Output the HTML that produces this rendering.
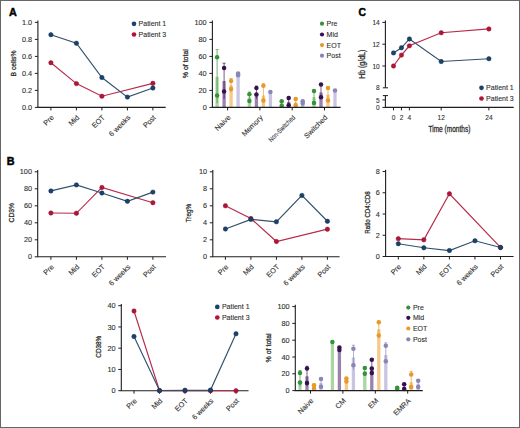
<!DOCTYPE html>
<html><head><meta charset="utf-8">
<style>
html,body{margin:0;padding:0;background:#fff;}
body{width:520px;height:428px;overflow:hidden;position:relative;}
.frame{position:absolute;left:0;top:0;width:518px;height:426px;border:1px solid #666;}
svg{position:absolute;left:0;top:0;}
text{font-family:"Liberation Sans",sans-serif;fill:#2e2e2e;stroke:#2e2e2e;stroke-width:0.1;}
text.yl{stroke-width:0.28;}
</style></head><body>
<div class="frame"></div>
<svg width="520" height="428" viewBox="0 0 520 428">
<text x="8.9" y="15.8" font-size="10.8" font-weight="bold" style="fill:#000;stroke:#000;stroke-width:0.45">A</text>
<text x="6.8" y="164.8" font-size="10.8" font-weight="bold" style="fill:#000;stroke:#000;stroke-width:0.45">B</text>
<text x="358.4" y="15.8" font-size="10.4" font-weight="bold" style="fill:#000;stroke:#000;stroke-width:0.45">C</text>
<line x1="37.9" y1="20.6" x2="37.9" y2="107.4" stroke="#1e1e1e" stroke-width="1.1"/>
<line x1="34.9" y1="107.4" x2="37.9" y2="107.4" stroke="#1e1e1e" stroke-width="1"/>
<text x="32.2" y="110" text-anchor="end" font-size="7.3">0.0</text>
<line x1="34.9" y1="90.4" x2="37.9" y2="90.4" stroke="#1e1e1e" stroke-width="1"/>
<text x="32.2" y="93" text-anchor="end" font-size="7.3">0.2</text>
<line x1="34.9" y1="73.4" x2="37.9" y2="73.4" stroke="#1e1e1e" stroke-width="1"/>
<text x="32.2" y="76" text-anchor="end" font-size="7.3">0.4</text>
<line x1="34.9" y1="56.4" x2="37.9" y2="56.4" stroke="#1e1e1e" stroke-width="1"/>
<text x="32.2" y="59" text-anchor="end" font-size="7.3">0.6</text>
<line x1="34.9" y1="39.4" x2="37.9" y2="39.4" stroke="#1e1e1e" stroke-width="1"/>
<text x="32.2" y="42" text-anchor="end" font-size="7.3">0.8</text>
<line x1="34.9" y1="22.4" x2="37.9" y2="22.4" stroke="#1e1e1e" stroke-width="1"/>
<text x="32.2" y="25" text-anchor="end" font-size="7.3">1.0</text>
<line x1="37.4" y1="107.4" x2="165.7" y2="107.4" stroke="#1e1e1e" stroke-width="1.1"/>
<line x1="50.9" y1="107.4" x2="50.9" y2="110.4" stroke="#1e1e1e" stroke-width="1"/>
<text x="0" y="0" text-anchor="end" font-size="7.3" transform="translate(54.3 118) rotate(-45) scale(1.0 1)">Pre</text>
<line x1="76.4" y1="107.4" x2="76.4" y2="110.4" stroke="#1e1e1e" stroke-width="1"/>
<text x="0" y="0" text-anchor="end" font-size="7.3" transform="translate(79.8 118) rotate(-45) scale(1.0 1)">Mid</text>
<line x1="101.9" y1="107.4" x2="101.9" y2="110.4" stroke="#1e1e1e" stroke-width="1"/>
<text x="0" y="0" text-anchor="end" font-size="7.3" transform="translate(105.3 118) rotate(-45) scale(1.0 1)">EOT</text>
<line x1="127.4" y1="107.4" x2="127.4" y2="110.4" stroke="#1e1e1e" stroke-width="1"/>
<text x="0" y="0" text-anchor="end" font-size="7.3" transform="translate(130.8 118) rotate(-45) scale(1.0 1)">6 weeks</text>
<line x1="152.9" y1="107.4" x2="152.9" y2="110.4" stroke="#1e1e1e" stroke-width="1"/>
<text x="0" y="0" text-anchor="end" font-size="7.3" transform="translate(156.3 118) rotate(-45) scale(1.0 1)">Post</text>
<text class="yl" x="0" y="0" text-anchor="middle" font-size="7.0" transform="translate(16.2 63.5) rotate(-90) scale(0.97 1)">B cells%</text>
<polyline points="50.9,62.75 76.4,83.58 101.9,96.24 152.9,83.32" fill="none" stroke="#b82a4a" stroke-width="1.15"/>
<circle cx="50.9" cy="62.75" r="2.2" fill="#b01638" stroke="#930d2c" stroke-width="0.5"/>
<circle cx="76.4" cy="83.58" r="2.2" fill="#b01638" stroke="#930d2c" stroke-width="0.5"/>
<circle cx="101.9" cy="96.24" r="2.2" fill="#b01638" stroke="#930d2c" stroke-width="0.5"/>
<circle cx="152.9" cy="83.32" r="2.2" fill="#b01638" stroke="#930d2c" stroke-width="0.5"/>
<polyline points="50.9,34.7 76.4,43.2 101.9,77.54 127.4,97.09 152.9,88" fill="none" stroke="#33506e" stroke-width="1.15"/>
<circle cx="50.9" cy="34.7" r="2.2" fill="#1b426c" stroke="#0f2e50" stroke-width="0.5"/>
<circle cx="76.4" cy="43.2" r="2.2" fill="#1b426c" stroke="#0f2e50" stroke-width="0.5"/>
<circle cx="101.9" cy="77.54" r="2.2" fill="#1b426c" stroke="#0f2e50" stroke-width="0.5"/>
<circle cx="127.4" cy="97.09" r="2.2" fill="#1b426c" stroke="#0f2e50" stroke-width="0.5"/>
<circle cx="152.9" cy="88" r="2.2" fill="#1b426c" stroke="#0f2e50" stroke-width="0.5"/>
<circle cx="134" cy="23.8" r="2.35" fill="#1b426c"/>
<text x="138.6" y="26.3" font-size="7.0">Patient 1</text>
<circle cx="134" cy="34.5" r="2.35" fill="#b01638"/>
<text x="138.6" y="37" font-size="7.0">Patient 3</text>
<line x1="212.4" y1="20.6" x2="212.4" y2="107.4" stroke="#1e1e1e" stroke-width="1.1"/>
<line x1="209.4" y1="107.4" x2="212.4" y2="107.4" stroke="#1e1e1e" stroke-width="1"/>
<text x="206.7" y="110" text-anchor="end" font-size="7.3">0</text>
<line x1="209.4" y1="90.4" x2="212.4" y2="90.4" stroke="#1e1e1e" stroke-width="1"/>
<text x="206.7" y="93" text-anchor="end" font-size="7.3">20</text>
<line x1="209.4" y1="73.4" x2="212.4" y2="73.4" stroke="#1e1e1e" stroke-width="1"/>
<text x="206.7" y="76" text-anchor="end" font-size="7.3">40</text>
<line x1="209.4" y1="56.4" x2="212.4" y2="56.4" stroke="#1e1e1e" stroke-width="1"/>
<text x="206.7" y="59" text-anchor="end" font-size="7.3">60</text>
<line x1="209.4" y1="39.4" x2="212.4" y2="39.4" stroke="#1e1e1e" stroke-width="1"/>
<text x="206.7" y="42" text-anchor="end" font-size="7.3">80</text>
<line x1="209.4" y1="22.4" x2="212.4" y2="22.4" stroke="#1e1e1e" stroke-width="1"/>
<text x="206.7" y="25" text-anchor="end" font-size="7.3">100</text>
<rect x="215.45" y="76.8" width="3.3" height="30.6" fill="#a9d79f"/>
<line x1="217.1" y1="103.15" x2="217.1" y2="49.6" stroke="#35913a" stroke-width="0.8" opacity="0.85"/>
<line x1="215.6" y1="49.6" x2="218.6" y2="49.6" stroke="#35913a" stroke-width="0.8" opacity="0.85"/>
<circle cx="217.1" cy="57.25" r="2.25" fill="#35913a"/>
<circle cx="217.1" cy="95.5" r="2.25" fill="#35913a"/>
<rect x="222.45" y="81.05" width="3.3" height="26.35" fill="#9b82ad"/>
<line x1="224.1" y1="98.9" x2="224.1" y2="63.2" stroke="#36114f" stroke-width="0.8" opacity="0.85"/>
<line x1="222.6" y1="63.2" x2="225.6" y2="63.2" stroke="#36114f" stroke-width="0.8" opacity="0.85"/>
<circle cx="224.1" cy="67.88" r="2.25" fill="#36114f"/>
<circle cx="224.1" cy="91.59" r="2.25" fill="#36114f"/>
<rect x="229.45" y="85.3" width="3.3" height="22.1" fill="#f5c98c"/>
<line x1="231.1" y1="92.1" x2="231.1" y2="78.5" stroke="#e59a2a" stroke-width="0.8" opacity="0.85"/>
<line x1="229.6" y1="78.5" x2="232.6" y2="78.5" stroke="#e59a2a" stroke-width="0.8" opacity="0.85"/>
<circle cx="231.1" cy="81.05" r="2.25" fill="#e59a2a"/>
<circle cx="231.1" cy="88.96" r="2.25" fill="#e59a2a"/>
<rect x="236.45" y="74.25" width="3.3" height="33.15" fill="#c8c5e3"/>
<line x1="238.1" y1="76.8" x2="238.1" y2="72.55" stroke="#8985b6" stroke-width="0.8" opacity="0.85"/>
<line x1="236.6" y1="72.55" x2="239.6" y2="72.55" stroke="#8985b6" stroke-width="0.8" opacity="0.85"/>
<circle cx="238.1" cy="73.4" r="2.25" fill="#8985b6"/>
<circle cx="238.1" cy="75.27" r="2.25" fill="#8985b6"/>
<rect x="247.75" y="97.2" width="3.3" height="10.2" fill="#a9d79f"/>
<line x1="249.4" y1="103.15" x2="249.4" y2="92.1" stroke="#35913a" stroke-width="0.8" opacity="0.85"/>
<line x1="247.9" y1="92.1" x2="250.9" y2="92.1" stroke="#35913a" stroke-width="0.8" opacity="0.85"/>
<circle cx="249.4" cy="94.23" r="2.25" fill="#35913a"/>
<circle cx="249.4" cy="101.03" r="2.25" fill="#35913a"/>
<rect x="254.75" y="93.8" width="3.3" height="13.6" fill="#9b82ad"/>
<line x1="256.4" y1="98.9" x2="256.4" y2="86.15" stroke="#36114f" stroke-width="0.8" opacity="0.85"/>
<line x1="254.9" y1="86.15" x2="257.9" y2="86.15" stroke="#36114f" stroke-width="0.8" opacity="0.85"/>
<circle cx="256.4" cy="88.11" r="2.25" fill="#36114f"/>
<circle cx="256.4" cy="94.4" r="2.25" fill="#36114f"/>
<rect x="261.75" y="95.5" width="3.3" height="11.9" fill="#f5c98c"/>
<line x1="263.4" y1="103.15" x2="263.4" y2="83.6" stroke="#e59a2a" stroke-width="0.8" opacity="0.85"/>
<line x1="261.9" y1="83.6" x2="264.9" y2="83.6" stroke="#e59a2a" stroke-width="0.8" opacity="0.85"/>
<circle cx="263.4" cy="85.81" r="2.25" fill="#e59a2a"/>
<circle cx="263.4" cy="100.6" r="2.25" fill="#e59a2a"/>
<rect x="268.75" y="92.1" width="3.3" height="15.3" fill="#c8c5e3"/>
<line x1="270.4" y1="92.95" x2="270.4" y2="91.25" stroke="#8985b6" stroke-width="0.8" opacity="0.85"/>
<line x1="268.9" y1="91.25" x2="271.9" y2="91.25" stroke="#8985b6" stroke-width="0.8" opacity="0.85"/>
<circle cx="270.4" cy="91.93" r="2.25" fill="#8985b6"/>
<rect x="280.05" y="103.58" width="3.3" height="3.83" fill="#a9d79f"/>
<line x1="281.7" y1="106.55" x2="281.7" y2="100.6" stroke="#35913a" stroke-width="0.8" opacity="0.85"/>
<line x1="280.2" y1="100.6" x2="283.2" y2="100.6" stroke="#35913a" stroke-width="0.8" opacity="0.85"/>
<circle cx="281.7" cy="101.2" r="2.25" fill="#35913a"/>
<circle cx="281.7" cy="105.7" r="2.25" fill="#35913a"/>
<rect x="287.05" y="101.88" width="3.3" height="5.53" fill="#9b82ad"/>
<line x1="288.7" y1="106.55" x2="288.7" y2="97.2" stroke="#36114f" stroke-width="0.8" opacity="0.85"/>
<line x1="287.2" y1="97.2" x2="290.2" y2="97.2" stroke="#36114f" stroke-width="0.8" opacity="0.85"/>
<circle cx="288.7" cy="98.05" r="2.25" fill="#36114f"/>
<circle cx="288.7" cy="105.28" r="2.25" fill="#36114f"/>
<rect x="294.05" y="102.3" width="3.3" height="5.1" fill="#f5c98c"/>
<line x1="295.7" y1="106.55" x2="295.7" y2="98.05" stroke="#e59a2a" stroke-width="0.8" opacity="0.85"/>
<line x1="294.2" y1="98.05" x2="297.2" y2="98.05" stroke="#e59a2a" stroke-width="0.8" opacity="0.85"/>
<circle cx="295.7" cy="98.9" r="2.25" fill="#e59a2a"/>
<circle cx="295.7" cy="105.28" r="2.25" fill="#e59a2a"/>
<rect x="301.05" y="102.3" width="3.3" height="5.1" fill="#c8c5e3"/>
<line x1="302.7" y1="104" x2="302.7" y2="100.6" stroke="#8985b6" stroke-width="0.8" opacity="0.85"/>
<line x1="301.2" y1="100.6" x2="304.2" y2="100.6" stroke="#8985b6" stroke-width="0.8" opacity="0.85"/>
<circle cx="302.7" cy="101.2" r="2.25" fill="#8985b6"/>
<circle cx="302.7" cy="103.49" r="2.25" fill="#8985b6"/>
<rect x="312.35" y="97.2" width="3.3" height="10.2" fill="#a9d79f"/>
<line x1="314" y1="104" x2="314" y2="90.4" stroke="#35913a" stroke-width="0.8" opacity="0.85"/>
<line x1="312.5" y1="90.4" x2="315.5" y2="90.4" stroke="#35913a" stroke-width="0.8" opacity="0.85"/>
<circle cx="314" cy="91" r="2.25" fill="#35913a"/>
<circle cx="314" cy="102.9" r="2.25" fill="#35913a"/>
<rect x="319.35" y="92.53" width="3.3" height="14.88" fill="#9b82ad"/>
<line x1="321" y1="98.9" x2="321" y2="83.6" stroke="#36114f" stroke-width="0.8" opacity="0.85"/>
<line x1="319.5" y1="83.6" x2="322.5" y2="83.6" stroke="#36114f" stroke-width="0.8" opacity="0.85"/>
<circle cx="321" cy="84.62" r="2.25" fill="#36114f"/>
<circle cx="321" cy="97.2" r="2.25" fill="#36114f"/>
<rect x="326.35" y="94.65" width="3.3" height="12.75" fill="#f5c98c"/>
<line x1="328" y1="102.3" x2="328" y2="87" stroke="#e59a2a" stroke-width="0.8" opacity="0.85"/>
<line x1="326.5" y1="87" x2="329.5" y2="87" stroke="#e59a2a" stroke-width="0.8" opacity="0.85"/>
<circle cx="328" cy="88.11" r="2.25" fill="#e59a2a"/>
<circle cx="328" cy="100.6" r="2.25" fill="#e59a2a"/>
<rect x="333.35" y="90.4" width="3.3" height="17" fill="#c8c5e3"/>
<line x1="335" y1="91.25" x2="335" y2="89.55" stroke="#8985b6" stroke-width="0.8" opacity="0.85"/>
<line x1="333.5" y1="89.55" x2="336.5" y2="89.55" stroke="#8985b6" stroke-width="0.8" opacity="0.85"/>
<circle cx="335" cy="90.57" r="2.25" fill="#8985b6"/>
<line x1="211.9" y1="107.4" x2="340.6" y2="107.4" stroke="#1e1e1e" stroke-width="1.1"/>
<line x1="227.6" y1="107.4" x2="227.6" y2="110.4" stroke="#1e1e1e" stroke-width="1"/>
<text x="0" y="0" text-anchor="end" font-size="7.3" transform="translate(231 118) rotate(-45) scale(1.0 1)">Naive</text>
<line x1="259.9" y1="107.4" x2="259.9" y2="110.4" stroke="#1e1e1e" stroke-width="1"/>
<text x="0" y="0" text-anchor="end" font-size="7.3" transform="translate(263.3 118) rotate(-45) scale(1.0 1)">Memory</text>
<line x1="292.2" y1="107.4" x2="292.2" y2="110.4" stroke="#1e1e1e" stroke-width="1"/>
<text x="0" y="0" text-anchor="end" font-size="6.7" transform="translate(295.6 118) rotate(-45) scale(0.83 1)">Non-Switched</text>
<line x1="324.5" y1="107.4" x2="324.5" y2="110.4" stroke="#1e1e1e" stroke-width="1"/>
<text x="0" y="0" text-anchor="end" font-size="7.3" transform="translate(327.9 118) rotate(-45) scale(1.0 1)">Switched</text>
<text class="yl" x="0" y="0" text-anchor="middle" font-size="8.1" transform="translate(187.7 63.7) rotate(-90) scale(0.86 1)">% of total</text>
<circle cx="322" cy="23.7" r="2.1" fill="#35913a"/>
<text x="326.6" y="26.2" font-size="7.0">Pre</text>
<circle cx="322" cy="34.5" r="2.1" fill="#36114f"/>
<text x="326.6" y="37" font-size="7.0">Mid</text>
<circle cx="322" cy="45.1" r="2.1" fill="#e59a2a"/>
<text x="326.6" y="47.6" font-size="7.0">EOT</text>
<circle cx="322" cy="55.7" r="2.1" fill="#8985b6"/>
<text x="326.6" y="58.2" font-size="7.0">Post</text>
<line x1="385.4" y1="20.6" x2="385.4" y2="87.8" stroke="#1e1e1e" stroke-width="1.1"/>
<line x1="382.4" y1="22.4" x2="385.4" y2="22.4" stroke="#1e1e1e" stroke-width="1"/>
<text x="0" y="0" text-anchor="end" font-size="7.3" transform="translate(379.7 25) scale(0.9 1)">14</text>
<line x1="382.4" y1="44.2" x2="385.4" y2="44.2" stroke="#1e1e1e" stroke-width="1"/>
<text x="0" y="0" text-anchor="end" font-size="7.3" transform="translate(379.7 46.8) scale(0.9 1)">12</text>
<line x1="382.4" y1="66" x2="385.4" y2="66" stroke="#1e1e1e" stroke-width="1"/>
<text x="0" y="0" text-anchor="end" font-size="7.3" transform="translate(379.7 68.6) scale(0.9 1)">10</text>
<line x1="382.79999999999995" y1="87.8" x2="388.0" y2="87.8" stroke="#1e1e1e" stroke-width="1"/>
<text x="0" y="0" text-anchor="end" font-size="7.3" transform="translate(379.7 90.4) scale(0.9 1)">8</text>
<line x1="382.79999999999995" y1="95.6" x2="388.0" y2="95.6" stroke="#1e1e1e" stroke-width="1"/>
<line x1="385.4" y1="95.6" x2="385.4" y2="107.4" stroke="#1e1e1e" stroke-width="1.1"/>
<line x1="382.4" y1="99.9" x2="385.4" y2="99.9" stroke="#1e1e1e" stroke-width="1"/>
<text x="0" y="0" text-anchor="end" font-size="7.3" transform="translate(379.7 102.5) scale(0.9 1)">5</text>
<line x1="382.4" y1="107.4" x2="385.4" y2="107.4" stroke="#1e1e1e" stroke-width="1"/>
<text x="0" y="0" text-anchor="end" font-size="7.3" transform="translate(379.7 110) scale(0.9 1)">0</text>
<line x1="384.9" y1="107.4" x2="513.7" y2="107.4" stroke="#1e1e1e" stroke-width="1.1"/>
<line x1="393.5" y1="107.4" x2="393.5" y2="110.4" stroke="#1e1e1e" stroke-width="1"/>
<text x="0" y="0" text-anchor="middle" font-size="7.3" transform="translate(393.5 119.8) scale(0.9 1)">0</text>
<line x1="401.45" y1="107.4" x2="401.45" y2="110.4" stroke="#1e1e1e" stroke-width="1"/>
<text x="0" y="0" text-anchor="middle" font-size="7.3" transform="translate(401.45 119.8) scale(0.9 1)">2</text>
<line x1="409.4" y1="107.4" x2="409.4" y2="110.4" stroke="#1e1e1e" stroke-width="1"/>
<text x="0" y="0" text-anchor="middle" font-size="7.3" transform="translate(409.4 119.8) scale(0.9 1)">4</text>
<line x1="441.2" y1="107.4" x2="441.2" y2="110.4" stroke="#1e1e1e" stroke-width="1"/>
<text x="0" y="0" text-anchor="middle" font-size="7.3" transform="translate(441.2 119.8) scale(0.9 1)">12</text>
<line x1="488.9" y1="107.4" x2="488.9" y2="110.4" stroke="#1e1e1e" stroke-width="1"/>
<text x="0" y="0" text-anchor="middle" font-size="7.3" transform="translate(488.9 119.8) scale(0.9 1)">24</text>
<text class="yl" x="0" y="0" text-anchor="middle" font-size="8.2" transform="translate(449.4 132.3) scale(0.8 1)">Time (months)</text>
<text class="yl" x="0" y="0" text-anchor="middle" font-size="8.2" transform="translate(364.7 64.3) rotate(-90) scale(0.85 1)">Hb (g/dL)</text>
<polyline points="393.5,66 401.45,55.1 409.4,45.84 441.2,32.75 488.9,28.94" fill="none" stroke="#b82a4a" stroke-width="1.15"/>
<circle cx="393.5" cy="66" r="2.2" fill="#b01638" stroke="#930d2c" stroke-width="0.5"/>
<circle cx="401.45" cy="55.1" r="2.2" fill="#b01638" stroke="#930d2c" stroke-width="0.5"/>
<circle cx="409.4" cy="45.84" r="2.2" fill="#b01638" stroke="#930d2c" stroke-width="0.5"/>
<circle cx="441.2" cy="32.75" r="2.2" fill="#b01638" stroke="#930d2c" stroke-width="0.5"/>
<circle cx="488.9" cy="28.94" r="2.2" fill="#b01638" stroke="#930d2c" stroke-width="0.5"/>
<polyline points="393.5,52.92 401.45,47.8 409.4,38.97 441.2,61.53 488.9,58.7" fill="none" stroke="#33506e" stroke-width="1.15"/>
<circle cx="393.5" cy="52.92" r="2.2" fill="#1b426c" stroke="#0f2e50" stroke-width="0.5"/>
<circle cx="401.45" cy="47.8" r="2.2" fill="#1b426c" stroke="#0f2e50" stroke-width="0.5"/>
<circle cx="409.4" cy="38.97" r="2.2" fill="#1b426c" stroke="#0f2e50" stroke-width="0.5"/>
<circle cx="441.2" cy="61.53" r="2.2" fill="#1b426c" stroke="#0f2e50" stroke-width="0.5"/>
<circle cx="488.9" cy="58.7" r="2.2" fill="#1b426c" stroke="#0f2e50" stroke-width="0.5"/>
<circle cx="481.5" cy="87.8" r="2.35" fill="#1b426c"/>
<text x="486.1" y="90.3" font-size="7.0">Patient 1</text>
<circle cx="481.5" cy="98.5" r="2.35" fill="#b01638"/>
<text x="486.1" y="101" font-size="7.0">Patient 3</text>
<line x1="37.7" y1="170" x2="37.7" y2="256.8" stroke="#1e1e1e" stroke-width="1.1"/>
<line x1="34.7" y1="256.8" x2="37.7" y2="256.8" stroke="#1e1e1e" stroke-width="1"/>
<text x="32" y="259.4" text-anchor="end" font-size="7.3">0</text>
<line x1="34.7" y1="239.8" x2="37.7" y2="239.8" stroke="#1e1e1e" stroke-width="1"/>
<text x="32" y="242.4" text-anchor="end" font-size="7.3">20</text>
<line x1="34.7" y1="222.8" x2="37.7" y2="222.8" stroke="#1e1e1e" stroke-width="1"/>
<text x="32" y="225.4" text-anchor="end" font-size="7.3">40</text>
<line x1="34.7" y1="205.8" x2="37.7" y2="205.8" stroke="#1e1e1e" stroke-width="1"/>
<text x="32" y="208.4" text-anchor="end" font-size="7.3">60</text>
<line x1="34.7" y1="188.8" x2="37.7" y2="188.8" stroke="#1e1e1e" stroke-width="1"/>
<text x="32" y="191.4" text-anchor="end" font-size="7.3">80</text>
<line x1="34.7" y1="171.8" x2="37.7" y2="171.8" stroke="#1e1e1e" stroke-width="1"/>
<text x="32" y="174.4" text-anchor="end" font-size="7.3">100</text>
<line x1="37.2" y1="256.8" x2="166" y2="256.8" stroke="#1e1e1e" stroke-width="1.1"/>
<line x1="50.9" y1="256.8" x2="50.9" y2="259.8" stroke="#1e1e1e" stroke-width="1"/>
<text x="0" y="0" text-anchor="end" font-size="7.3" transform="translate(54.3 267.4) rotate(-45) scale(1.0 1)">Pre</text>
<line x1="76.4" y1="256.8" x2="76.4" y2="259.8" stroke="#1e1e1e" stroke-width="1"/>
<text x="0" y="0" text-anchor="end" font-size="7.3" transform="translate(79.8 267.4) rotate(-45) scale(1.0 1)">Mid</text>
<line x1="101.9" y1="256.8" x2="101.9" y2="259.8" stroke="#1e1e1e" stroke-width="1"/>
<text x="0" y="0" text-anchor="end" font-size="7.3" transform="translate(105.3 267.4) rotate(-45) scale(1.0 1)">EOT</text>
<line x1="127.4" y1="256.8" x2="127.4" y2="259.8" stroke="#1e1e1e" stroke-width="1"/>
<text x="0" y="0" text-anchor="end" font-size="7.3" transform="translate(130.8 267.4) rotate(-45) scale(1.0 1)">6 weeks</text>
<line x1="152.9" y1="256.8" x2="152.9" y2="259.8" stroke="#1e1e1e" stroke-width="1"/>
<text x="0" y="0" text-anchor="end" font-size="7.3" transform="translate(156.3 267.4) rotate(-45) scale(1.0 1)">Post</text>
<text class="yl" x="0" y="0" text-anchor="middle" font-size="7.8" transform="translate(14 212.7) rotate(-90) scale(0.87 1)">CD3%</text>
<polyline points="50.9,213.03 76.4,213.28 101.9,187.44 152.9,202.74" fill="none" stroke="#b82a4a" stroke-width="1.15"/>
<circle cx="50.9" cy="213.03" r="2.2" fill="#b01638" stroke="#930d2c" stroke-width="0.5"/>
<circle cx="76.4" cy="213.28" r="2.2" fill="#b01638" stroke="#930d2c" stroke-width="0.5"/>
<circle cx="101.9" cy="187.44" r="2.2" fill="#b01638" stroke="#930d2c" stroke-width="0.5"/>
<circle cx="152.9" cy="202.74" r="2.2" fill="#b01638" stroke="#930d2c" stroke-width="0.5"/>
<polyline points="50.9,190.93 76.4,184.89 101.9,193.05 127.4,201.3 152.9,192.12" fill="none" stroke="#33506e" stroke-width="1.15"/>
<circle cx="50.9" cy="190.93" r="2.2" fill="#1b426c" stroke="#0f2e50" stroke-width="0.5"/>
<circle cx="76.4" cy="184.89" r="2.2" fill="#1b426c" stroke="#0f2e50" stroke-width="0.5"/>
<circle cx="101.9" cy="193.05" r="2.2" fill="#1b426c" stroke="#0f2e50" stroke-width="0.5"/>
<circle cx="127.4" cy="201.3" r="2.2" fill="#1b426c" stroke="#0f2e50" stroke-width="0.5"/>
<circle cx="152.9" cy="192.12" r="2.2" fill="#1b426c" stroke="#0f2e50" stroke-width="0.5"/>
<line x1="212.8" y1="170" x2="212.8" y2="256.8" stroke="#1e1e1e" stroke-width="1.1"/>
<line x1="209.8" y1="256.8" x2="212.8" y2="256.8" stroke="#1e1e1e" stroke-width="1"/>
<text x="207.1" y="259.4" text-anchor="end" font-size="7.3">0</text>
<line x1="209.8" y1="239.8" x2="212.8" y2="239.8" stroke="#1e1e1e" stroke-width="1"/>
<text x="207.1" y="242.4" text-anchor="end" font-size="7.3">2</text>
<line x1="209.8" y1="222.8" x2="212.8" y2="222.8" stroke="#1e1e1e" stroke-width="1"/>
<text x="207.1" y="225.4" text-anchor="end" font-size="7.3">4</text>
<line x1="209.8" y1="205.8" x2="212.8" y2="205.8" stroke="#1e1e1e" stroke-width="1"/>
<text x="207.1" y="208.4" text-anchor="end" font-size="7.3">6</text>
<line x1="209.8" y1="188.8" x2="212.8" y2="188.8" stroke="#1e1e1e" stroke-width="1"/>
<text x="207.1" y="191.4" text-anchor="end" font-size="7.3">8</text>
<line x1="209.8" y1="171.8" x2="212.8" y2="171.8" stroke="#1e1e1e" stroke-width="1"/>
<text x="207.1" y="174.4" text-anchor="end" font-size="7.3">10</text>
<line x1="212.3" y1="256.8" x2="339.6" y2="256.8" stroke="#1e1e1e" stroke-width="1.1"/>
<line x1="225.4" y1="256.8" x2="225.4" y2="259.8" stroke="#1e1e1e" stroke-width="1"/>
<text x="0" y="0" text-anchor="end" font-size="7.3" transform="translate(228.8 267.4) rotate(-45) scale(1.0 1)">Pre</text>
<line x1="250.9" y1="256.8" x2="250.9" y2="259.8" stroke="#1e1e1e" stroke-width="1"/>
<text x="0" y="0" text-anchor="end" font-size="7.3" transform="translate(254.3 267.4) rotate(-45) scale(1.0 1)">Mid</text>
<line x1="276.4" y1="256.8" x2="276.4" y2="259.8" stroke="#1e1e1e" stroke-width="1"/>
<text x="0" y="0" text-anchor="end" font-size="7.3" transform="translate(279.8 267.4) rotate(-45) scale(1.0 1)">EOT</text>
<line x1="301.9" y1="256.8" x2="301.9" y2="259.8" stroke="#1e1e1e" stroke-width="1"/>
<text x="0" y="0" text-anchor="end" font-size="7.3" transform="translate(305.3 267.4) rotate(-45) scale(1.0 1)">6 weeks</text>
<line x1="327.4" y1="256.8" x2="327.4" y2="259.8" stroke="#1e1e1e" stroke-width="1"/>
<text x="0" y="0" text-anchor="end" font-size="7.3" transform="translate(330.8 267.4) rotate(-45) scale(1.0 1)">Post</text>
<text class="yl" x="0" y="0" text-anchor="middle" font-size="7.6" transform="translate(191.4 213.1) rotate(-90) scale(0.84 1)">Treg%</text>
<polyline points="225.4,205.8 250.9,218.55 276.4,241.5 327.4,229.18" fill="none" stroke="#b82a4a" stroke-width="1.15"/>
<circle cx="225.4" cy="205.8" r="2.2" fill="#b01638" stroke="#930d2c" stroke-width="0.5"/>
<circle cx="250.9" cy="218.55" r="2.2" fill="#b01638" stroke="#930d2c" stroke-width="0.5"/>
<circle cx="276.4" cy="241.5" r="2.2" fill="#b01638" stroke="#930d2c" stroke-width="0.5"/>
<circle cx="327.4" cy="229.18" r="2.2" fill="#b01638" stroke="#930d2c" stroke-width="0.5"/>
<polyline points="225.4,229 250.9,219.4 276.4,221.78 301.9,195.43 327.4,221.27" fill="none" stroke="#33506e" stroke-width="1.15"/>
<circle cx="225.4" cy="229" r="2.2" fill="#1b426c" stroke="#0f2e50" stroke-width="0.5"/>
<circle cx="250.9" cy="219.4" r="2.2" fill="#1b426c" stroke="#0f2e50" stroke-width="0.5"/>
<circle cx="276.4" cy="221.78" r="2.2" fill="#1b426c" stroke="#0f2e50" stroke-width="0.5"/>
<circle cx="301.9" cy="195.43" r="2.2" fill="#1b426c" stroke="#0f2e50" stroke-width="0.5"/>
<circle cx="327.4" cy="221.27" r="2.2" fill="#1b426c" stroke="#0f2e50" stroke-width="0.5"/>
<line x1="385.6" y1="169.7" x2="385.6" y2="256.5" stroke="#1e1e1e" stroke-width="1.1"/>
<line x1="382.6" y1="256.5" x2="385.6" y2="256.5" stroke="#1e1e1e" stroke-width="1"/>
<text x="379.9" y="259.1" text-anchor="end" font-size="7.3">0</text>
<line x1="382.6" y1="235.25" x2="385.6" y2="235.25" stroke="#1e1e1e" stroke-width="1"/>
<text x="379.9" y="237.85" text-anchor="end" font-size="7.3">2</text>
<line x1="382.6" y1="214" x2="385.6" y2="214" stroke="#1e1e1e" stroke-width="1"/>
<text x="379.9" y="216.6" text-anchor="end" font-size="7.3">4</text>
<line x1="382.6" y1="192.75" x2="385.6" y2="192.75" stroke="#1e1e1e" stroke-width="1"/>
<text x="379.9" y="195.35" text-anchor="end" font-size="7.3">6</text>
<line x1="382.6" y1="171.5" x2="385.6" y2="171.5" stroke="#1e1e1e" stroke-width="1"/>
<text x="379.9" y="174.1" text-anchor="end" font-size="7.3">8</text>
<line x1="385.1" y1="256.5" x2="513.6" y2="256.5" stroke="#1e1e1e" stroke-width="1.1"/>
<line x1="398.3" y1="256.5" x2="398.3" y2="259.5" stroke="#1e1e1e" stroke-width="1"/>
<text x="0" y="0" text-anchor="end" font-size="7.3" transform="translate(401.7 267.1) rotate(-45) scale(1.0 1)">Pre</text>
<line x1="423.85" y1="256.5" x2="423.85" y2="259.5" stroke="#1e1e1e" stroke-width="1"/>
<text x="0" y="0" text-anchor="end" font-size="7.3" transform="translate(427.25 267.1) rotate(-45) scale(1.0 1)">Mid</text>
<line x1="449.4" y1="256.5" x2="449.4" y2="259.5" stroke="#1e1e1e" stroke-width="1"/>
<text x="0" y="0" text-anchor="end" font-size="7.3" transform="translate(452.8 267.1) rotate(-45) scale(1.0 1)">EOT</text>
<line x1="474.95" y1="256.5" x2="474.95" y2="259.5" stroke="#1e1e1e" stroke-width="1"/>
<text x="0" y="0" text-anchor="end" font-size="7.3" transform="translate(478.35 267.1) rotate(-45) scale(1.0 1)">6 weeks</text>
<line x1="500.5" y1="256.5" x2="500.5" y2="259.5" stroke="#1e1e1e" stroke-width="1"/>
<text x="0" y="0" text-anchor="end" font-size="7.3" transform="translate(503.9 267.1) rotate(-45) scale(1.0 1)">Post</text>
<text class="yl" x="0" y="0" text-anchor="middle" font-size="7.6" transform="translate(370.2 212.5) rotate(-90) scale(0.81 1)">Ratio CD4:CD8</text>
<polyline points="398.3,238.65 423.85,239.82 449.4,193.81 500.5,247.47" fill="none" stroke="#b82a4a" stroke-width="1.15"/>
<circle cx="398.3" cy="238.65" r="2.2" fill="#b01638" stroke="#930d2c" stroke-width="0.5"/>
<circle cx="423.85" cy="239.82" r="2.2" fill="#b01638" stroke="#930d2c" stroke-width="0.5"/>
<circle cx="449.4" cy="193.81" r="2.2" fill="#b01638" stroke="#930d2c" stroke-width="0.5"/>
<circle cx="500.5" cy="247.47" r="2.2" fill="#b01638" stroke="#930d2c" stroke-width="0.5"/>
<polyline points="398.3,243.75 423.85,247.79 449.4,250.55 474.95,240.78 500.5,247.47" fill="none" stroke="#33506e" stroke-width="1.15"/>
<circle cx="398.3" cy="243.75" r="2.2" fill="#1b426c" stroke="#0f2e50" stroke-width="0.5"/>
<circle cx="423.85" cy="247.79" r="2.2" fill="#1b426c" stroke="#0f2e50" stroke-width="0.5"/>
<circle cx="449.4" cy="250.55" r="2.2" fill="#1b426c" stroke="#0f2e50" stroke-width="0.5"/>
<circle cx="474.95" cy="240.78" r="2.2" fill="#1b426c" stroke="#0f2e50" stroke-width="0.5"/>
<circle cx="500.5" cy="247.47" r="2.2" fill="#1b426c" stroke="#0f2e50" stroke-width="0.5"/>
<line x1="121.3" y1="303.9" x2="121.3" y2="390.7" stroke="#1e1e1e" stroke-width="1.1"/>
<line x1="118.3" y1="390.7" x2="121.3" y2="390.7" stroke="#1e1e1e" stroke-width="1"/>
<text x="115.6" y="393.3" text-anchor="end" font-size="7.3">0</text>
<line x1="118.3" y1="369.45" x2="121.3" y2="369.45" stroke="#1e1e1e" stroke-width="1"/>
<text x="115.6" y="372.05" text-anchor="end" font-size="7.3">10</text>
<line x1="118.3" y1="348.2" x2="121.3" y2="348.2" stroke="#1e1e1e" stroke-width="1"/>
<text x="115.6" y="350.8" text-anchor="end" font-size="7.3">20</text>
<line x1="118.3" y1="326.95" x2="121.3" y2="326.95" stroke="#1e1e1e" stroke-width="1"/>
<text x="115.6" y="329.55" text-anchor="end" font-size="7.3">30</text>
<line x1="118.3" y1="305.7" x2="121.3" y2="305.7" stroke="#1e1e1e" stroke-width="1"/>
<text x="115.6" y="308.3" text-anchor="end" font-size="7.3">40</text>
<line x1="120.8" y1="390.7" x2="248.5" y2="390.7" stroke="#1e1e1e" stroke-width="1.1"/>
<line x1="134" y1="390.7" x2="134" y2="393.7" stroke="#1e1e1e" stroke-width="1"/>
<text x="0" y="0" text-anchor="end" font-size="7.3" transform="translate(137.4 401.3) rotate(-45) scale(1.0 1)">Pre</text>
<line x1="159.5" y1="390.7" x2="159.5" y2="393.7" stroke="#1e1e1e" stroke-width="1"/>
<text x="0" y="0" text-anchor="end" font-size="7.3" transform="translate(162.9 401.3) rotate(-45) scale(1.0 1)">Mid</text>
<line x1="185" y1="390.7" x2="185" y2="393.7" stroke="#1e1e1e" stroke-width="1"/>
<text x="0" y="0" text-anchor="end" font-size="7.3" transform="translate(188.4 401.3) rotate(-45) scale(1.0 1)">EOT</text>
<line x1="210.5" y1="390.7" x2="210.5" y2="393.7" stroke="#1e1e1e" stroke-width="1"/>
<text x="0" y="0" text-anchor="end" font-size="7.3" transform="translate(213.9 401.3) rotate(-45) scale(1.0 1)">6 weeks</text>
<line x1="236" y1="390.7" x2="236" y2="393.7" stroke="#1e1e1e" stroke-width="1"/>
<text x="0" y="0" text-anchor="end" font-size="7.3" transform="translate(239.4 401.3) rotate(-45) scale(1.0 1)">Post</text>
<text class="yl" x="0" y="0" text-anchor="middle" font-size="7.7" transform="translate(101.2 346.7) rotate(-90) scale(0.83 1)">CD38%</text>
<polyline points="134,311.01 159.5,390.7 185,390.7 210.5,390.7 236,390.7" fill="none" stroke="#b82a4a" stroke-width="1.15"/>
<circle cx="134" cy="311.01" r="2.2" fill="#b01638" stroke="#930d2c" stroke-width="0.5"/>
<circle cx="159.5" cy="390.7" r="2.2" fill="#b01638" stroke="#930d2c" stroke-width="0.5"/>
<circle cx="185" cy="390.7" r="2.2" fill="#b01638" stroke="#930d2c" stroke-width="0.5"/>
<circle cx="210.5" cy="390.7" r="2.2" fill="#b01638" stroke="#930d2c" stroke-width="0.5"/>
<circle cx="236" cy="390.7" r="2.2" fill="#b01638" stroke="#930d2c" stroke-width="0.5"/>
<polyline points="134,336.51 159.5,390.49 185,390.27 210.5,390.06 236,333.75" fill="none" stroke="#33506e" stroke-width="1.15"/>
<circle cx="134" cy="336.51" r="2.2" fill="#1b426c" stroke="#0f2e50" stroke-width="0.5"/>
<circle cx="159.5" cy="390.49" r="2.2" fill="#1b426c" stroke="#0f2e50" stroke-width="0.5"/>
<circle cx="185" cy="390.27" r="2.2" fill="#1b426c" stroke="#0f2e50" stroke-width="0.5"/>
<circle cx="210.5" cy="390.06" r="2.2" fill="#1b426c" stroke="#0f2e50" stroke-width="0.5"/>
<circle cx="236" cy="333.75" r="2.2" fill="#1b426c" stroke="#0f2e50" stroke-width="0.5"/>
<circle cx="217.3" cy="306.9" r="2.35" fill="#1b426c"/>
<text x="221.9" y="309.4" font-size="7.0">Patient 1</text>
<circle cx="217.3" cy="317.5" r="2.35" fill="#b01638"/>
<text x="221.9" y="320" font-size="7.0">Patient 3</text>
<line x1="295.3" y1="304.8" x2="295.3" y2="390.6" stroke="#1e1e1e" stroke-width="1.1"/>
<line x1="292.3" y1="390.6" x2="295.3" y2="390.6" stroke="#1e1e1e" stroke-width="1"/>
<text x="289.6" y="393.2" text-anchor="end" font-size="7.3">0</text>
<line x1="292.3" y1="373.8" x2="295.3" y2="373.8" stroke="#1e1e1e" stroke-width="1"/>
<text x="289.6" y="376.4" text-anchor="end" font-size="7.3">20</text>
<line x1="292.3" y1="357" x2="295.3" y2="357" stroke="#1e1e1e" stroke-width="1"/>
<text x="289.6" y="359.6" text-anchor="end" font-size="7.3">40</text>
<line x1="292.3" y1="340.2" x2="295.3" y2="340.2" stroke="#1e1e1e" stroke-width="1"/>
<text x="289.6" y="342.8" text-anchor="end" font-size="7.3">60</text>
<line x1="292.3" y1="323.4" x2="295.3" y2="323.4" stroke="#1e1e1e" stroke-width="1"/>
<text x="289.6" y="326" text-anchor="end" font-size="7.3">80</text>
<line x1="292.3" y1="306.6" x2="295.3" y2="306.6" stroke="#1e1e1e" stroke-width="1"/>
<text x="289.6" y="309.2" text-anchor="end" font-size="7.3">100</text>
<rect x="298.35" y="380.77" width="3.3" height="9.83" fill="#a9d79f"/>
<line x1="300" y1="386.4" x2="300" y2="370.44" stroke="#35913a" stroke-width="0.8" opacity="0.85"/>
<line x1="298.5" y1="370.44" x2="301.5" y2="370.44" stroke="#35913a" stroke-width="0.8" opacity="0.85"/>
<circle cx="300" cy="372.96" r="2.25" fill="#35913a"/>
<circle cx="300" cy="382.54" r="2.25" fill="#35913a"/>
<rect x="305.35" y="376.32" width="3.3" height="14.28" fill="#9b82ad"/>
<line x1="307" y1="386.4" x2="307" y2="366.24" stroke="#36114f" stroke-width="0.8" opacity="0.85"/>
<line x1="305.5" y1="366.24" x2="308.5" y2="366.24" stroke="#36114f" stroke-width="0.8" opacity="0.85"/>
<circle cx="307" cy="368.59" r="2.25" fill="#36114f"/>
<circle cx="307" cy="383.04" r="2.25" fill="#36114f"/>
<rect x="312.35" y="386.82" width="3.3" height="3.78" fill="#f5c98c"/>
<line x1="314" y1="389.76" x2="314" y2="383.88" stroke="#e59a2a" stroke-width="0.8" opacity="0.85"/>
<line x1="312.5" y1="383.88" x2="315.5" y2="383.88" stroke="#e59a2a" stroke-width="0.8" opacity="0.85"/>
<circle cx="314" cy="385.14" r="2.25" fill="#e59a2a"/>
<circle cx="314" cy="388.5" r="2.25" fill="#e59a2a"/>
<rect x="319.35" y="383.04" width="3.3" height="7.56" fill="#c8c5e3"/>
<line x1="321" y1="388.08" x2="321" y2="378" stroke="#8985b6" stroke-width="0.8" opacity="0.85"/>
<line x1="319.5" y1="378" x2="322.5" y2="378" stroke="#8985b6" stroke-width="0.8" opacity="0.85"/>
<circle cx="321" cy="379.01" r="2.25" fill="#8985b6"/>
<circle cx="321" cy="386.82" r="2.25" fill="#8985b6"/>
<rect x="330.75" y="341.88" width="3.3" height="48.72" fill="#a9d79f"/>
<line x1="332.4" y1="342.72" x2="332.4" y2="341.04" stroke="#35913a" stroke-width="0.8" opacity="0.85"/>
<line x1="330.9" y1="341.04" x2="333.9" y2="341.04" stroke="#35913a" stroke-width="0.8" opacity="0.85"/>
<circle cx="332.4" cy="341.88" r="2.25" fill="#35913a"/>
<rect x="337.75" y="349.02" width="3.3" height="41.58" fill="#9b82ad"/>
<line x1="339.4" y1="351.12" x2="339.4" y2="346.92" stroke="#36114f" stroke-width="0.8" opacity="0.85"/>
<line x1="337.9" y1="346.92" x2="340.9" y2="346.92" stroke="#36114f" stroke-width="0.8" opacity="0.85"/>
<circle cx="339.4" cy="347.51" r="2.25" fill="#36114f"/>
<circle cx="339.4" cy="350.11" r="2.25" fill="#36114f"/>
<rect x="344.75" y="380.1" width="3.3" height="10.5" fill="#f5c98c"/>
<line x1="346.4" y1="382.2" x2="346.4" y2="378" stroke="#e59a2a" stroke-width="0.8" opacity="0.85"/>
<line x1="344.9" y1="378" x2="347.9" y2="378" stroke="#e59a2a" stroke-width="0.8" opacity="0.85"/>
<circle cx="346.4" cy="378.5" r="2.25" fill="#e59a2a"/>
<circle cx="346.4" cy="381.61" r="2.25" fill="#e59a2a"/>
<rect x="351.75" y="357.42" width="3.3" height="33.18" fill="#c8c5e3"/>
<line x1="353.4" y1="369.6" x2="353.4" y2="345.24" stroke="#8985b6" stroke-width="0.8" opacity="0.85"/>
<line x1="351.9" y1="345.24" x2="354.9" y2="345.24" stroke="#8985b6" stroke-width="0.8" opacity="0.85"/>
<circle cx="353.4" cy="348.77" r="2.25" fill="#8985b6"/>
<circle cx="353.4" cy="365.23" r="2.25" fill="#8985b6"/>
<rect x="363.15" y="371.28" width="3.3" height="19.32" fill="#a9d79f"/>
<line x1="364.8" y1="374.64" x2="364.8" y2="367.08" stroke="#35913a" stroke-width="0.8" opacity="0.85"/>
<line x1="363.3" y1="367.08" x2="366.3" y2="367.08" stroke="#35913a" stroke-width="0.8" opacity="0.85"/>
<circle cx="364.8" cy="367.92" r="2.25" fill="#35913a"/>
<circle cx="364.8" cy="373.72" r="2.25" fill="#35913a"/>
<rect x="370.15" y="367.92" width="3.3" height="22.68" fill="#9b82ad"/>
<line x1="371.8" y1="375.48" x2="371.8" y2="358.68" stroke="#36114f" stroke-width="0.8" opacity="0.85"/>
<line x1="370.3" y1="358.68" x2="373.3" y2="358.68" stroke="#36114f" stroke-width="0.8" opacity="0.85"/>
<circle cx="371.8" cy="359.69" r="2.25" fill="#36114f"/>
<circle cx="371.8" cy="368.42" r="2.25" fill="#36114f"/>
<circle cx="371.8" cy="372.96" r="2.25" fill="#36114f"/>
<rect x="377.15" y="329.28" width="3.3" height="61.32" fill="#f5c98c"/>
<line x1="378.8" y1="337.68" x2="378.8" y2="320.88" stroke="#e59a2a" stroke-width="0.8" opacity="0.85"/>
<line x1="377.3" y1="320.88" x2="380.3" y2="320.88" stroke="#e59a2a" stroke-width="0.8" opacity="0.85"/>
<circle cx="378.8" cy="322.31" r="2.25" fill="#e59a2a"/>
<circle cx="378.8" cy="335.58" r="2.25" fill="#e59a2a"/>
<rect x="384.15" y="354.98" width="3.3" height="35.62" fill="#c8c5e3"/>
<line x1="385.8" y1="363.72" x2="385.8" y2="342.89" stroke="#8985b6" stroke-width="0.8" opacity="0.85"/>
<line x1="384.3" y1="342.89" x2="387.3" y2="342.89" stroke="#8985b6" stroke-width="0.8" opacity="0.85"/>
<circle cx="385.8" cy="345.66" r="2.25" fill="#8985b6"/>
<circle cx="385.8" cy="361.2" r="2.25" fill="#8985b6"/>
<rect x="395.55" y="388.5" width="3.3" height="2.1" fill="#a9d79f"/>
<line x1="397.2" y1="389.76" x2="397.2" y2="387.24" stroke="#35913a" stroke-width="0.8" opacity="0.85"/>
<line x1="395.7" y1="387.24" x2="398.7" y2="387.24" stroke="#35913a" stroke-width="0.8" opacity="0.85"/>
<circle cx="397.2" cy="387.83" r="2.25" fill="#35913a"/>
<circle cx="397.2" cy="388.92" r="2.25" fill="#35913a"/>
<rect x="402.55" y="386.82" width="3.3" height="3.78" fill="#9b82ad"/>
<line x1="404.2" y1="389.76" x2="404.2" y2="383.46" stroke="#36114f" stroke-width="0.8" opacity="0.85"/>
<line x1="402.7" y1="383.46" x2="405.7" y2="383.46" stroke="#36114f" stroke-width="0.8" opacity="0.85"/>
<circle cx="404.2" cy="384.3" r="2.25" fill="#36114f"/>
<circle cx="404.2" cy="388.92" r="2.25" fill="#36114f"/>
<rect x="409.55" y="382.2" width="3.3" height="8.4" fill="#f5c98c"/>
<line x1="411.2" y1="388.92" x2="411.2" y2="371.36" stroke="#e59a2a" stroke-width="0.8" opacity="0.85"/>
<line x1="409.7" y1="371.36" x2="412.7" y2="371.36" stroke="#e59a2a" stroke-width="0.8" opacity="0.85"/>
<circle cx="411.2" cy="374.39" r="2.25" fill="#e59a2a"/>
<circle cx="411.2" cy="387.07" r="2.25" fill="#e59a2a"/>
<rect x="416.55" y="383.88" width="3.3" height="6.72" fill="#c8c5e3"/>
<line x1="418.2" y1="388.08" x2="418.2" y2="379.68" stroke="#8985b6" stroke-width="0.8" opacity="0.85"/>
<line x1="416.7" y1="379.68" x2="419.7" y2="379.68" stroke="#8985b6" stroke-width="0.8" opacity="0.85"/>
<circle cx="418.2" cy="380.69" r="2.25" fill="#8985b6"/>
<circle cx="418.2" cy="387.07" r="2.25" fill="#8985b6"/>
<line x1="294.8" y1="390.6" x2="422.8" y2="390.6" stroke="#1e1e1e" stroke-width="1.1"/>
<line x1="310.5" y1="390.6" x2="310.5" y2="393.6" stroke="#1e1e1e" stroke-width="1"/>
<text x="0" y="0" text-anchor="end" font-size="7.3" transform="translate(313.9 401.2) rotate(-45) scale(1.0 1)">Naive</text>
<line x1="342.9" y1="390.6" x2="342.9" y2="393.6" stroke="#1e1e1e" stroke-width="1"/>
<text x="0" y="0" text-anchor="end" font-size="7.3" transform="translate(346.3 401.2) rotate(-45) scale(1.0 1)">CM</text>
<line x1="375.3" y1="390.6" x2="375.3" y2="393.6" stroke="#1e1e1e" stroke-width="1"/>
<text x="0" y="0" text-anchor="end" font-size="7.3" transform="translate(378.7 401.2) rotate(-45) scale(1.0 1)">EM</text>
<line x1="407.7" y1="390.6" x2="407.7" y2="393.6" stroke="#1e1e1e" stroke-width="1"/>
<text x="0" y="0" text-anchor="end" font-size="7.3" transform="translate(411.1 401.2) rotate(-45) scale(1.0 1)">EMRA</text>
<text class="yl" x="0" y="0" text-anchor="middle" font-size="8.1" transform="translate(271.4 347.9) rotate(-90) scale(0.86 1)">% of total</text>
<circle cx="408.3" cy="307.6" r="2.1" fill="#35913a"/>
<text x="412.9" y="310.1" font-size="7.0">Pre</text>
<circle cx="408.3" cy="317.8" r="2.1" fill="#36114f"/>
<text x="412.9" y="320.3" font-size="7.0">Mid</text>
<circle cx="408.3" cy="328.5" r="2.1" fill="#e59a2a"/>
<text x="412.9" y="331" font-size="7.0">EOT</text>
<circle cx="408.3" cy="339.3" r="2.1" fill="#8985b6"/>
<text x="412.9" y="341.8" font-size="7.0">Post</text>
</svg>
</body></html>
